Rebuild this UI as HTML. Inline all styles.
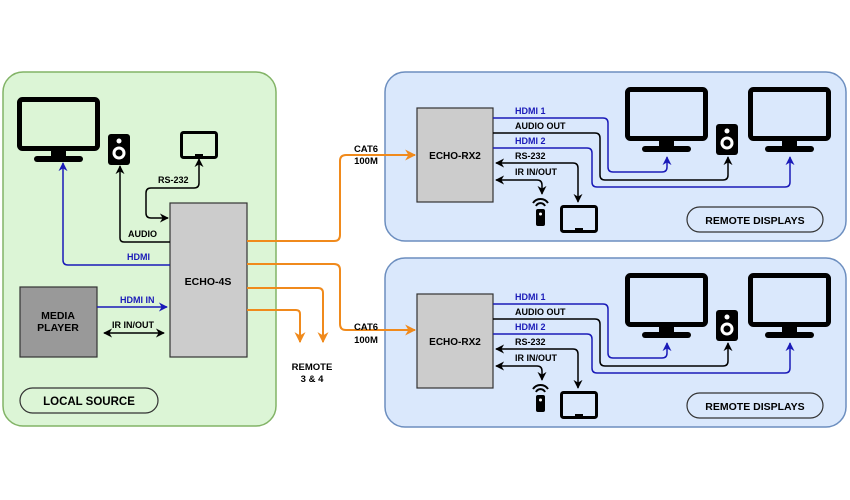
<!DOCTYPE html>
<html><head><meta charset="utf-8"><style>
html,body{margin:0;padding:0;background:#fff;}
svg{display:block;}
text{font-family:"Liberation Sans",sans-serif;font-weight:bold;}
</style></head><body>
<svg width="850" height="500" viewBox="0 0 850 500" xmlns="http://www.w3.org/2000/svg">
<defs>
<marker id="ab" viewBox="0 0 10 10" refX="9" refY="5" markerWidth="6" markerHeight="6" orient="auto-start-reverse"><path d="M0,0L10,5L0,10L3,5z" fill="#000"/></marker>
<marker id="ablue" viewBox="0 0 10 10" refX="9" refY="5" markerWidth="6" markerHeight="6" orient="auto-start-reverse"><path d="M0,0L10,5L0,10L3,5z" fill="#1a1ab8"/></marker>
<marker id="aor" viewBox="0 0 10 10" refX="9" refY="5" markerWidth="5.5" markerHeight="5.5" orient="auto"><path d="M0,0L10,5L0,10L3,5z" fill="#f08a1c"/></marker>
<g id="mon">
<rect x="2.5" y="2.5" width="78" height="49" rx="3" fill="none" stroke="#000" stroke-width="5"/>
<rect x="34" y="52" width="15" height="8" fill="#000"/>
<rect x="17" y="59" width="49" height="6" rx="3" fill="#000"/>
</g>
<g id="spk">
<rect x="0" y="0" width="22" height="31" rx="3" fill="#000"/>
<circle cx="11" cy="7" r="2.5" fill="#fff"/>
<circle cx="11" cy="19" r="6.5" fill="#fff"/>
<circle cx="11" cy="19" r="3.5" fill="#000"/>
</g>
<g id="tab">
<rect x="1.5" y="1.5" width="35" height="25" rx="2" fill="none" stroke="#000" stroke-width="3"/>
<rect x="15" y="23" width="8" height="3" fill="#000"/>
</g>
<g id="rx">
<rect x="385" y="72" width="461" height="169" rx="20" fill="#dae8fc" stroke="#6c8ebf" stroke-width="1.5"/>
<rect x="417" y="108" width="76" height="94" fill="#ccc" stroke="#333" stroke-width="1.2"/>
<text x="455" y="159" font-size="10" text-anchor="middle">ECHO-RX2</text>
<use href="#mon" x="625" y="87"/>
<use href="#mon" x="748" y="87"/>
<use href="#spk" x="716" y="124"/>
<use href="#tab" x="560" y="205"/>
<g fill="#000"><rect x="536" y="209" width="9" height="17" rx="2"/><circle cx="540.5" cy="214" r="1.5" fill="#fff"/>
<path d="M533,203 a9,9 0 0 1 15,0" fill="none" stroke="#000" stroke-width="2"/>
<path d="M536,206 a5,5 0 0 1 9,0" fill="none" stroke="#000" stroke-width="2"/></g>
<path d="M493,118 H603 Q608,118 608,123 V167 Q608,172 613,172 H662 Q667,172 667,167 V157" fill="none" stroke="#1a1ab8" stroke-width="1.5" marker-end="url(#ablue)"/>
<path d="M493,133 H595 Q600,133 600,138 V175 Q600,180 605,180 H723 Q728,180 728,175 V157" fill="none" stroke="#000" stroke-width="1.5" marker-end="url(#ab)"/>
<path d="M493,148 H587 Q592,148 592,153 V182 Q592,187 597,187 H785 Q790,187 790,182 V157" fill="none" stroke="#1a1ab8" stroke-width="1.5" marker-end="url(#ablue)"/>
<path d="M496,163 H573 Q578,163 578,168 V202" fill="none" stroke="#000" stroke-width="1.5" marker-start="url(#ab)" marker-end="url(#ab)"/>
<path d="M496,180 H537 Q542,180 542,185 V194" fill="none" stroke="#000" stroke-width="1.5" marker-start="url(#ab)" marker-end="url(#ab)"/>
<g font-size="9"><text x="515" y="114" fill="#1a1ab8">HDMI 1</text><text x="515" y="129">AUDIO OUT</text><text x="515" y="144" fill="#1a1ab8">HDMI 2</text><text x="515" y="159">RS-232</text><text x="515" y="175">IR IN/OUT</text></g>
<rect x="687" y="207" width="136" height="25" rx="12.5" fill="none" stroke="#333" stroke-width="1.2"/>
<text x="755" y="224" font-size="10.5" text-anchor="middle">REMOTE DISPLAYS</text>
</g>
</defs>
<rect x="3" y="72" width="273" height="354" rx="20" fill="#dcf5d6" stroke="#82b366" stroke-width="1.5"/>
<use href="#rx"/>
<use href="#rx" y="186"/>
<use href="#mon" x="17" y="97"/>
<use href="#spk" x="108" y="134"/>
<use href="#tab" x="180" y="131"/>
<rect x="170" y="203" width="77" height="154" fill="#ccc" stroke="#333" stroke-width="1.2"/>
<text x="208" y="285" font-size="10.5" text-anchor="middle">ECHO-4S</text>
<rect x="20" y="287" width="77" height="70" fill="#999" stroke="#333" stroke-width="1.2"/>
<text x="58" y="319" font-size="10.5" text-anchor="middle">MEDIA</text>
<text x="58" y="331" font-size="10.5" text-anchor="middle">PLAYER</text>
<path d="M170,265 H68 Q63,265 63,260 V163" fill="none" stroke="#1a1ab8" stroke-width="1.5" marker-end="url(#ablue)"/>
<path d="M170,242 H124 Q120,242 120,238 V166" fill="none" stroke="#000" stroke-width="1.5" marker-end="url(#ab)"/>
<path d="M168,218 H151 Q146,218 146,213 V193 Q146,188 151,188 H194 Q199,188 199,183 V159" fill="none" stroke="#000" stroke-width="1.5" marker-start="url(#ab)" marker-end="url(#ab)"/>
<path d="M97,307 H167" fill="none" stroke="#1a1ab8" stroke-width="1.5" marker-end="url(#ablue)"/>
<path d="M104,333 H164" fill="none" stroke="#000" stroke-width="1.5" marker-start="url(#ab)" marker-end="url(#ab)"/>
<g font-size="9"><text x="158" y="183">RS-232</text><text x="128" y="237">AUDIO</text><text x="127" y="260" fill="#1a1ab8">HDMI</text><text x="120" y="303" fill="#1a1ab8">HDMI IN</text><text x="112" y="328">IR IN/OUT</text></g>
<g fill="none" stroke="#f08a1c" stroke-width="2">
<path d="M247,241 H334 Q340,241 340,235 V161 Q340,155 346,155 H415" marker-end="url(#aor)"/>
<path d="M247,264 H334 Q340,264 340,270 V324 Q340,330 346,330 H415" marker-end="url(#aor)"/>
<path d="M247,288 H318 Q323,288 323,293 V342" marker-end="url(#aor)"/>
<path d="M247,310 H296 Q300,310 300,314 V342" marker-end="url(#aor)"/>
</g>
<g font-size="9.5" text-anchor="middle"><text x="366" y="152">CAT6</text><text x="366" y="164">100M</text><text x="366" y="330">CAT6</text><text x="366" y="343">100M</text><text x="312" y="370">REMOTE</text><text x="312" y="382">3 &amp; 4</text></g>
<rect x="20" y="388" width="138" height="25" rx="12.5" fill="none" stroke="#333" stroke-width="1.2"/>
<text x="89" y="405" font-size="11.5" text-anchor="middle">LOCAL SOURCE</text>
</svg>
</body></html>
